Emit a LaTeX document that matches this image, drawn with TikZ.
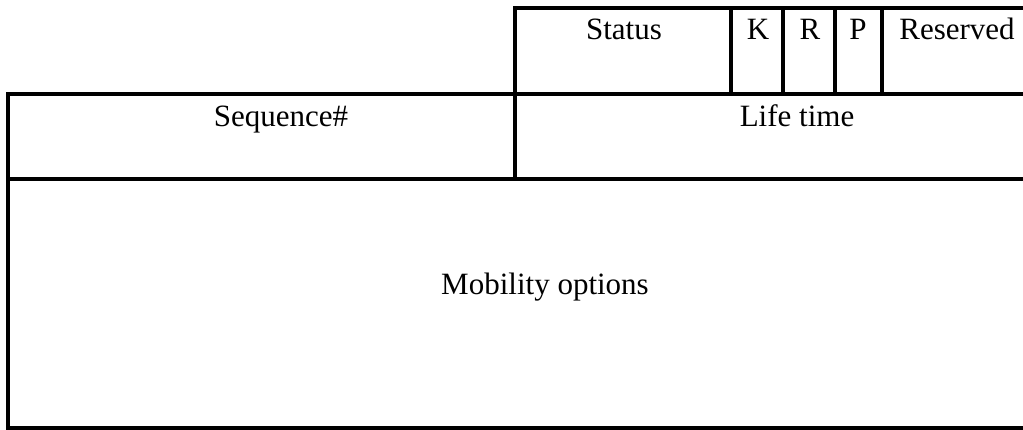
\documentclass[tikz,border=0pt]{standalone}
\usepackage{fontspec}
\setmainfont{Liberation Serif}
\begin{document}
\begin{tikzpicture}[x=1pt,y=-1pt,
  rule/.style={line width=3.5pt, line cap=rect, line join=miter},
  field/.style={anchor=base, inner sep=0pt, font=\fontsize{31}{37}\selectfont}]
\useasboundingbox (0,0) rectangle (1023,430);
\clip (0,0) rectangle (1023,430);
% header word: status and flag bits
\draw[rule] (1030,8) -- (515,8) -- (515,179);
\foreach \xx in {731,783,835,882} \draw[rule] (\xx,8) -- (\xx,94);
% second word: sequence number and lifetime
\draw[rule] (1030,94) -- (8,94) -- (8,428) -- (1030,428);
\draw[rule] (8,179) -- (1030,179);
% field labels
\node[field] (status) at (624,40) {Status};
\node[field] (k) at (758,40) {K};
\node[field] (r) at (810,40) {R};
\node[field] (p) at (858,40) {P};
\node[field] (res) at (957,40) {Reserved};
\node[field] (seq) at (281,127) {Sequence\#};
\node[field] (life) at (797,127) {Life time};
\node[field] (mob) at (545,295) {Mobility options};
\end{tikzpicture}
\end{document}
